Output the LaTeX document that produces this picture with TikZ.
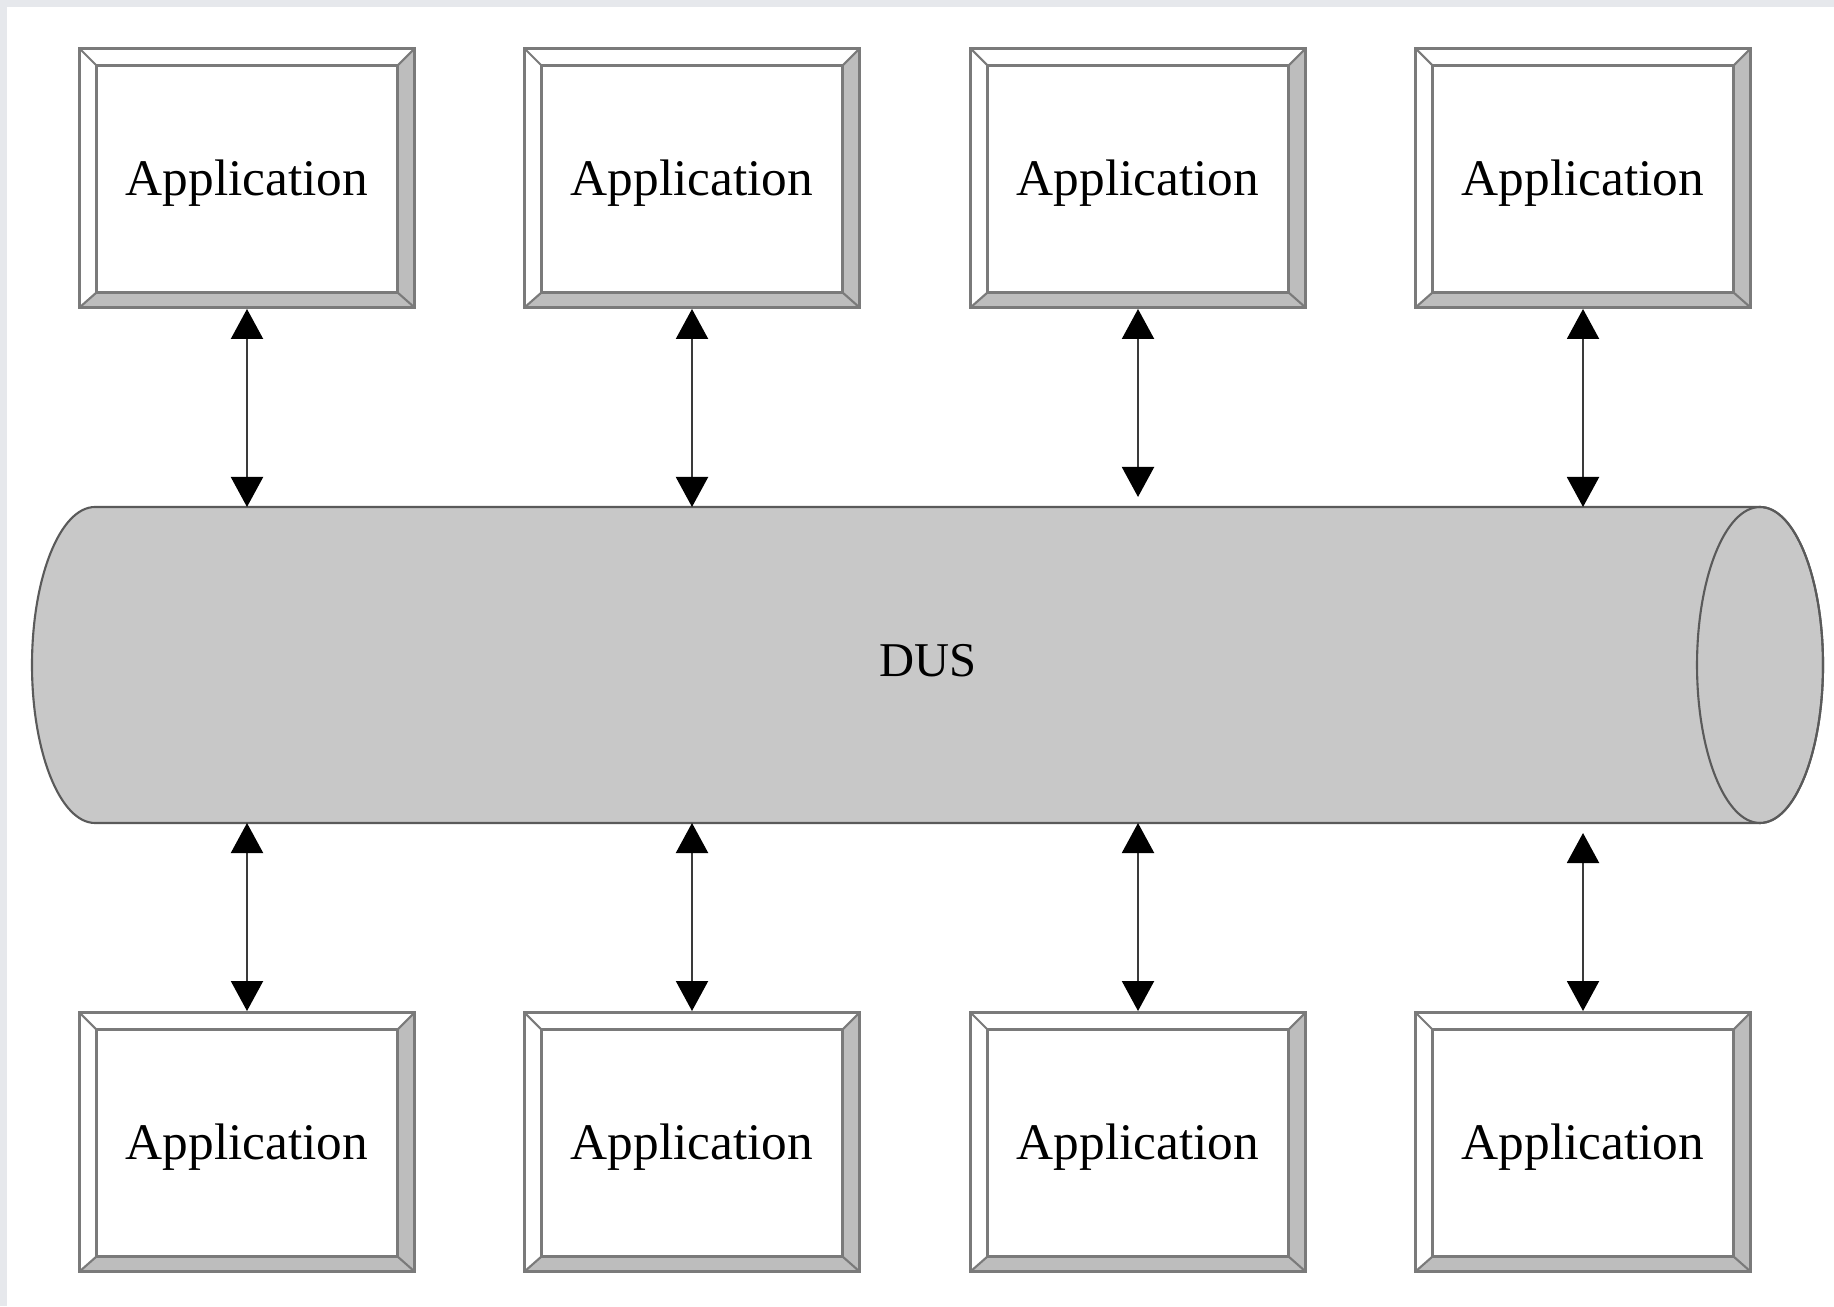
\documentclass[tikz,border=0pt]{standalone}
\usepackage{fontspec}
\setmainfont{Liberation Serif}
\usepackage{tikz}
\usetikzlibrary{arrows.meta}

\definecolor{pageband}{HTML}{E6E8EC}
\definecolor{bevelfill}{HTML}{BDBDBD}
\definecolor{bevelline}{HTML}{7A7A7A}
\definecolor{busfill}{HTML}{C8C8C8}
\definecolor{busline}{HTML}{5A5A5A}
\definecolor{arrowline}{HTML}{3A3A3A}

\tikzset{
	appbox/.style={draw=bevelline, line width=0.8pt, fill=white,
		minimum width=3.35cm, minimum height=2.59cm, inner sep=0pt,
		text depth=0pt,
		font=\fontsize{14.6}{17}\selectfont,
		path picture={
			\def\pb{path picture bounding box}
			\fill[bevelfill] (\pb.north east) -- (\pb.south east) -- (\pb.south west)
				-- ([shift={(0.17cm,0.15cm)}]\pb.south west)
				-- ([shift={(-0.17cm,0.15cm)}]\pb.south east)
				-- ([shift={(-0.17cm,-0.17cm)}]\pb.north east) -- cycle;
			\draw[bevelline, line width=0.8pt] ([shift={(0.17cm,0.15cm)}]\pb.south west)
				rectangle ([shift={(-0.17cm,-0.17cm)}]\pb.north east);
			\draw[bevelline, line width=0.6pt] (\pb.north west) -- ++(0.17cm,-0.17cm);
			\draw[bevelline, line width=0.6pt] (\pb.north east) -- ++(-0.17cm,-0.17cm);
			\draw[bevelline, line width=0.6pt] (\pb.south west) -- ++(0.17cm,0.15cm);
			\draw[bevelline, line width=0.6pt] (\pb.south east) -- ++(-0.17cm,0.15cm);
		}},
	busarrow/.style={draw=arrowline, line width=0.6pt,
		{Triangle[width=3.2mm,length=3mm,color=black]}-{Triangle[width=3.2mm,length=3mm,color=black]}},
	bustext/.style={font=\fontsize{13.8}{16}\selectfont}
}

\begin{document}
\begin{tikzpicture}[x=0.01cm, y=0.01cm]
	\useasboundingbox (0,0) rectangle (1834,1306);
	\fill[pageband] (0,0) rectangle (1834,1306);
	\fill[white] (7,0) rectangle (1834,1299);

	% the bus
	\fill[busfill] (95,799) -- (1760,799) arc(90:-90:63 and 158) -- (95,483) arc(270:90:63 and 158) -- cycle;
	\draw[busline, line width=0.6pt] (95,799) -- (1760,799) arc(90:-90:63 and 158) -- (95,483) arc(270:90:63 and 158) -- cycle;
	\draw[busline, line width=0.6pt] (1760,641) ellipse(63 and 158);
	\coordinate (bustop) at (928,799);
	\coordinate (busbot) at (928,483);
	\node[bustext] (bus) at (928,645) {DUS};

	% applications above and below
	\foreach \i/\x in {1/247,2/692,3/1138,4/1583} {
		\node[appbox] (t\i) at (\x,1128) {Application};
		\node[appbox] (b\i) at (\x,164) {Application};
	}

	\foreach \i/\ts/\bs in {1/0/0,2/0/0,3/1/0,4/0/1} {
		\draw[busarrow, shorten >=\ts mm] (t\i.south) -- (t\i.south |- bustop);
		\draw[busarrow, shorten >=\bs mm] (b\i.north) -- (b\i.north |- busbot);
	}
\end{tikzpicture}
\end{document}
